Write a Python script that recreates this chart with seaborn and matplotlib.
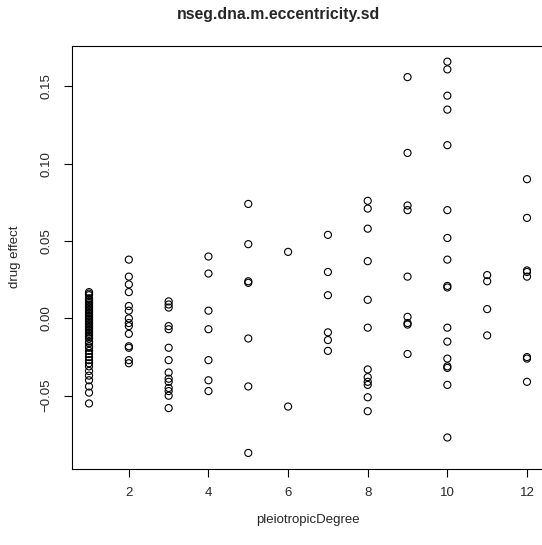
import numpy as np
import pandas as pd
import matplotlib
matplotlib.use("Agg")
import matplotlib.pyplot as plt
import seaborn as sns

# drug effect values, grouped by pleiotropic degree
deg1 = [0.017, 0.016, 0.015, 0.013, 0.012, 0.011, 0.010, 0.009, 0.008, 0.007,
        0.006, 0.005, 0.004, 0.003, 0.002, 0.001, 0.000, -0.001, -0.002, -0.003,
        -0.004, -0.005, -0.006, -0.007, -0.008, -0.009, -0.010, -0.011, -0.012,
        -0.013, -0.015, -0.016, -0.018, -0.019, -0.021, -0.023, -0.025, -0.027,
        -0.029, -0.031, -0.034, -0.037, -0.040, -0.044, -0.048, -0.055]
deg2 = [0.038, 0.027, 0.022, 0.017, 0.008, 0.005, 0.000, -0.003, -0.005,
        -0.010, -0.018, -0.019, -0.027, -0.029]
deg3 = [0.011, 0.009, 0.007, -0.005, -0.007, -0.019, -0.027, -0.035, -0.039,
        -0.041, -0.045, -0.047, -0.050, -0.058]
deg4 = [0.040, 0.029, 0.005, -0.007, -0.027, -0.040, -0.047]
deg5 = [0.074, 0.048, 0.024, 0.023, -0.013, -0.044, -0.087]
deg6 = [0.043, -0.057]
deg7 = [0.054, 0.030, 0.015, -0.009, -0.014, -0.021]
deg8 = [0.076, 0.071, 0.058, 0.037, 0.012, -0.006, -0.033, -0.038, -0.041,
        -0.043, -0.051, -0.060]
deg9 = [0.156, 0.107, 0.073, 0.070, 0.027, 0.001, -0.003, -0.004, -0.023]
deg10 = [0.166, 0.161, 0.144, 0.135, 0.112, 0.070, 0.052, 0.038, 0.021, 0.020,
         -0.006, -0.015, -0.026, -0.031, -0.032, -0.043, -0.077]
deg11 = [0.028, 0.024, 0.006, -0.011]
deg12 = [0.090, 0.065, 0.031, 0.030, 0.027, -0.025, -0.026, -0.041]

groups = [deg1, deg2, deg3, deg4, deg5, deg6, deg7, deg8, deg9, deg10, deg11, deg12]
degrees = list(range(1, 13))

df = pd.DataFrame({
    "pleiotropicDegree": np.repeat(degrees, [len(g) for g in groups]),
    "drug effect": np.concatenate(groups),
})

sns.set_style("white")
plt.rcParams["font.family"] = ["Liberation Sans", "DejaVu Sans"]
plt.rcParams["axes.unicode_minus"] = True

fig = plt.figure(figsize=(5.42, 5.45), dpi=100)
ax = fig.add_axes([71.5 / 542, (545 - 468.6) / 545, 473 / 542, 422.6 / 545])

sns.scatterplot(data=df, x="pleiotropicDegree", y="drug effect", ax=ax,
                marker="o", s=26, color="black", linewidth=0.8, legend=False)
for c in ax.collections:
    c.set_facecolor("none")
    c.set_edgecolor("black")

ax.set_xlim(0.56, 12.44)
ax.margins(y=0.04)
ax.set_xticks(range(2, 13, 2))
ax.set_yticks([-0.05, 0.0, 0.05, 0.10, 0.15])
ax.set_yticklabels(["\u22120.05", "0.00", "0.05", "0.10", "0.15"],
                   rotation=90, va="center")
ax.tick_params(direction="out", length=6, width=0.8, color="black",
               labelsize=9.5, pad=7.5, left=True, bottom=True)
for s in ax.spines.values():
    s.set_color("black")
    s.set_linewidth(0.8)

ax.set_xlabel("")
ax.set_ylabel("")
fig.text(308 / 542, 1 - 520 / 545, "pleiotropicDegree", ha="center",
         va="center", fontsize=9.5)
fig.text(15 / 542, 1 - 257 / 545, "drug effect", ha="center", va="center",
         rotation=90, fontsize=9.5)
fig.text(278 / 542, 1 - 15 / 545, "nseg.dna.m.eccentricity.sd", ha="center",
         va="center", fontsize=11.4, fontweight="bold")

fig.savefig("out.png", dpi=100)
